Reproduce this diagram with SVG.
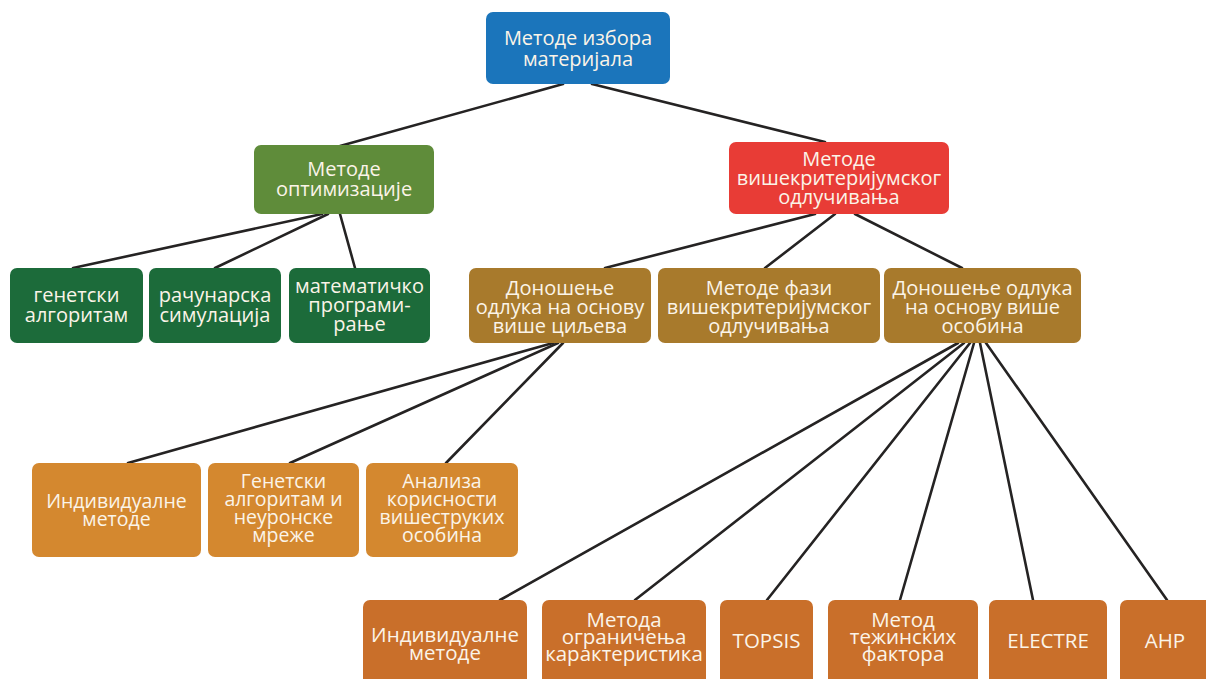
<svg xmlns="http://www.w3.org/2000/svg" width="1206" height="679" viewBox="0 0 1206 679">
  <style>
    .box { stroke: none; }
    .lbl { font-family: "Open Sans", "Noto Sans", "DejaVu Sans", sans-serif; fill: #fbf4e8; text-anchor: middle; }
    .l20 { font-size: 20px; }
    .l19 { font-size: 19.5px; }
    .l21 { font-size: 20.5px; }
    .edge { stroke: #252323; stroke-width: 2.6; fill: none; stroke-linecap: round; }
    .blue { fill: #1b75bb; }
    .olive { fill: #5f8c3a; }
    .red { fill: #e83c36; }
    .dgreen { fill: #1c6b3a; }
    .brown { fill: #a87a2c; }
    .amber { fill: #d4882f; }
    .rust { fill: #c96f2a; }
  </style>
  <rect width="1206" height="679" fill="#ffffff"/>

  <g id="connectors">
    <!-- root to second level -->
    <line class="edge" x1="563" y1="84" x2="340" y2="146"/>
    <line class="edge" x1="592" y1="84" x2="825" y2="142"/>
    <!-- optimisation methods -->
    <line class="edge" x1="322" y1="214" x2="73" y2="268"/>
    <line class="edge" x1="328" y1="214" x2="215" y2="268"/>
    <line class="edge" x1="340" y1="214" x2="355" y2="268"/>
    <!-- multi-criteria decision making -->
    <line class="edge" x1="815" y1="214" x2="605" y2="268"/>
    <line class="edge" x1="835" y1="214" x2="765" y2="268"/>
    <line class="edge" x1="855" y1="214" x2="962" y2="268"/>
    <!-- multi-objective decisions -->
    <line class="edge" x1="553" y1="343" x2="128" y2="463"/>
    <line class="edge" x1="558" y1="343" x2="290" y2="463"/>
    <line class="edge" x1="563" y1="343" x2="446" y2="463"/>
    <!-- multi-attribute decisions -->
    <line class="edge" x1="958" y1="343" x2="500" y2="600"/>
    <line class="edge" x1="964" y1="343" x2="635" y2="600"/>
    <line class="edge" x1="970" y1="343" x2="767" y2="600"/>
    <line class="edge" x1="974" y1="343" x2="900" y2="600"/>
    <line class="edge" x1="980" y1="343" x2="1033" y2="600"/>
    <line class="edge" x1="986" y1="343" x2="1167" y2="600"/>
  </g>

  <g id="root">
    <rect class="box blue" x="486" y="12" width="184" height="72" rx="7"/>
    <text class="lbl l20"><tspan x="578" y="45">Методе избора</tspan><tspan x="578" y="66">материјала</tspan></text>
  </g>

  <g id="optimisation">
    <rect class="box olive" x="254" y="145" width="180" height="69" rx="7"/>
    <text class="lbl l20"><tspan x="344" y="176">Методе</tspan><tspan x="344" y="196">оптимизације</tspan></text>
  </g>

  <g id="mcdm">
    <rect class="box red" x="729" y="142" width="220" height="72" rx="7"/>
    <text class="lbl l20"><tspan x="839" y="166">Методе</tspan><tspan x="839" y="185">вишекритеријумског</tspan><tspan x="839" y="204">одлучивања</tspan></text>
  </g>

  <g id="genetic">
    <rect class="box dgreen" x="10" y="268" width="133" height="75" rx="7"/>
    <text class="lbl l20"><tspan x="76.5" y="302">генетски</tspan><tspan x="76.5" y="322">алгоритам</tspan></text>
  </g>

  <g id="simulation">
    <rect class="box dgreen" x="149" y="268" width="132" height="75" rx="7"/>
    <text class="lbl l20"><tspan x="215" y="302">рачунарска</tspan><tspan x="215" y="322">симулација</tspan></text>
  </g>

  <g id="programming">
    <rect class="box dgreen" x="289" y="268" width="141" height="75" rx="7"/>
    <text class="lbl l20"><tspan x="359.5" y="293">математичко</tspan><tspan x="359.5" y="312">програми-</tspan><tspan x="359.5" y="331">рање</tspan></text>
  </g>

  <g id="multi-objective">
    <rect class="box brown" x="469" y="268" width="182" height="75" rx="7"/>
    <text class="lbl l20"><tspan x="560" y="295">Доношење</tspan><tspan x="560" y="314">одлука на основу</tspan><tspan x="560" y="333">више циљева</tspan></text>
  </g>

  <g id="fuzzy">
    <rect class="box brown" x="658" y="268" width="222" height="75" rx="7"/>
    <text class="lbl l20"><tspan x="769" y="295">Методе фази</tspan><tspan x="769" y="314">вишекритеријумског</tspan><tspan x="769" y="333">одлучивања</tspan></text>
  </g>

  <g id="multi-attribute">
    <rect class="box brown" x="884" y="268" width="197" height="75" rx="7"/>
    <text class="lbl l20"><tspan x="982.5" y="295">Доношење одлука</tspan><tspan x="982.5" y="314">на основу више</tspan><tspan x="982.5" y="333">особина</tspan></text>
  </g>

  <g id="individual-a">
    <rect class="box amber" x="32" y="463" width="169" height="94" rx="7"/>
    <text class="lbl l19"><tspan x="116.5" y="508">Индивидуалне</tspan><tspan x="116.5" y="526">методе</tspan></text>
  </g>

  <g id="genetic-neural">
    <rect class="box amber" x="208" y="463" width="151" height="94" rx="7"/>
    <text class="lbl l19"><tspan x="283.5" y="488">Генетски</tspan><tspan x="283.5" y="506">алгоритам и</tspan><tspan x="283.5" y="524">неуронске</tspan><tspan x="283.5" y="542">мреже</tspan></text>
  </g>

  <g id="utility">
    <rect class="box amber" x="366" y="463" width="152" height="94" rx="7"/>
    <text class="lbl l19"><tspan x="442" y="488">Анализа</tspan><tspan x="442" y="506">корисности</tspan><tspan x="442" y="524">вишеструких</tspan><tspan x="442" y="542">особина</tspan></text>
  </g>

  <g id="individual-b">
    <rect class="box rust" x="363" y="600" width="164" height="90" rx="7"/>
    <text class="lbl l21"><tspan x="445" y="642">Индивидуалне</tspan><tspan x="445" y="660">методе</tspan></text>
  </g>

  <g id="constraints">
    <rect class="box rust" x="542" y="600" width="164" height="90" rx="7"/>
    <text class="lbl l21"><tspan x="624" y="627">Метода</tspan><tspan x="624" y="644">ограничења</tspan><tspan x="624" y="661">карактеристика</tspan></text>
  </g>

  <g id="topsis">
    <rect class="box rust" x="720" y="600" width="93" height="90" rx="7"/>
    <text class="lbl l21" x="766.5" y="648">TOPSIS</text>
  </g>

  <g id="weights">
    <rect class="box rust" x="828" y="600" width="150" height="90" rx="7"/>
    <text class="lbl l21"><tspan x="903" y="627">Метод</tspan><tspan x="903" y="644">тежинских</tspan><tspan x="903" y="661">фактора</tspan></text>
  </g>

  <g id="electre">
    <rect class="box rust" x="989" y="600" width="118" height="90" rx="7"/>
    <text class="lbl l21" x="1048" y="648">ELECTRE</text>
  </g>

  <g id="ahp">
    <rect class="box rust" x="1120" y="600" width="92" height="90" rx="7"/>
    <text class="lbl l21" x="1165" y="648">AHP</text>
  </g>
</svg>
